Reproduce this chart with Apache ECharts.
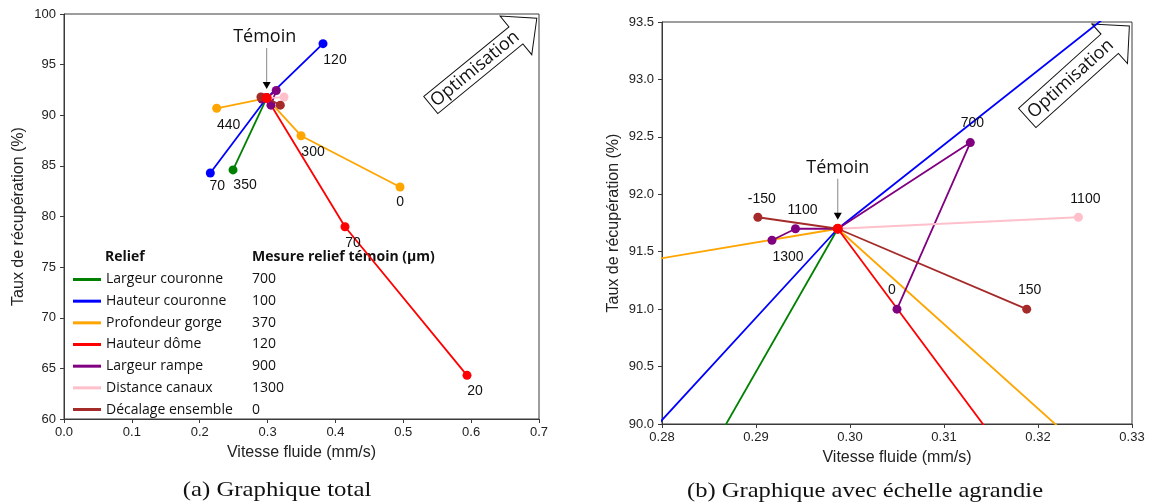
<!DOCTYPE html>
<html><head><meta charset="utf-8">
<script src="https://cdn.jsdelivr.net/npm/echarts@6/dist/echarts.min.js"></script>
<style>html,body{margin:0;padding:0;background:#fff}#c{width:1151px;height:504px}</style>
</head><body><div id="c"></div>
<script>
// ---------------- DATA ----------------
const reliefs = ['Largeur couronne','Hauteur couronne','Profondeur gorge','Hauteur dôme','Largeur rampe','Distance canaux','Décalage ensemble'];
const temoinValues = [700, 100, 370, 120, 900, 1300, 0];   // Mesure relief témoin (µm)
const temoinX = 0.2987, temoinY = 91.70;                   // témoin point

// tested relief values (µm), fluid speed (mm/s), recovery rate (%)
const largeurCouronneP = [350],               largeurCouronneX = [0.2491],               largeurCouronneY = [84.60];
const hauteurCouronneP = [70, 120],           hauteurCouronneX = [0.2156, 0.3817],       hauteurCouronneY = [84.30, 97.07];
const profondeurGorgeP = [0, 300, 440],       profondeurGorgeX = [0.4952, 0.3493, 0.2250], profondeurGorgeY = [82.91, 87.98, 90.69];
const hauteurDomeP     = [20, 70],            hauteurDomeX     = [0.5939, 0.4141],       hauteurDomeY     = [64.31, 78.99];
const largeurRampeP    = [0, 700, 1100, 1300], largeurRampeX   = [0.3050, 0.3128, 0.2942, 0.2917], largeurRampeY = [91.00, 92.45, 91.70, 91.60];
const distanceCanauxP  = [1100],              distanceCanauxX  = [0.3243],               distanceCanauxY  = [91.80];
const decalageP        = [-150, 150],         decalageX        = [0.2902, 0.3188],       decalageY        = [91.80, 91.00];

const xTicksLeft = [0, 0.7, 0.1], yTicksLeft = [60, 100, 5];
const xTicksRight = [0.28, 0.33, 0.01], yTicksRight = [90, 93.5, 0.5];

// ---------------- STYLE ----------------
const colors = ['#008000','#0000ff','#ffa500','#ff0000','#800080','#ffc0cb','#a52a2a'];
const P = [largeurCouronneP, hauteurCouronneP, profondeurGorgeP, hauteurDomeP, largeurRampeP, distanceCanauxP, decalageP];
const X = [largeurCouronneX, hauteurCouronneX, profondeurGorgeX, hauteurDomeX, largeurRampeX, distanceCanauxX, decalageX];
const Y = [largeurCouronneY, hauteurCouronneY, profondeurGorgeY, hauteurDomeY, largeurRampeY, distanceCanauxY, decalageY];
const labelledLeft = [0,1,2,3], labelledRight = [4,5,6];
// label centre offsets (px) relative to the marker
const leftOffsets = {'1|70':[7,13], '2|0':[0,15], '2|440':[12,17], '3|70':[8,16], '3|20':[8,16], '0|350':[12,15]};
const rightOffsets = {'4|1300':[16,17], '4|0':[-5,-19], '4|1100':[7,-19], '4|700':[2,-19], '5|1100':[7,-18], '6|-150':[4,-18], '6|150':[3,-19]};
const SYM = 9;

const AX = 'Liberation Sans, Arial, sans-serif';
const axisCol = '#3a3a3a';

function buildData(i, grid) {
  const pts = P[i].map((p, k) => ({p, x: X[i][k], y: Y[i][k], t: false}));
  pts.push({p: temoinValues[i], x: temoinX, y: temoinY, t: true});
  pts.sort((a, b) => a.p - b.p);
  const showLab = (grid === 0 ? labelledLeft : labelledRight).includes(i);
  return pts.map(o => {
    const item = {value: [o.x, o.y, o.p]};
    if (o.t || !showLab) { item.label = {show: false}; return item; }
    const key = i + '|' + o.p;
    const off = grid === 0 ? (leftOffsets[key] || [12, 16]) : (rightOffsets[key] || [3, -19]);
    item.label = {show: true, position: [SYM / 2 + off[0], SYM / 2 + off[1]], align: 'center', verticalAlign: 'middle'};
    return item;
  });
}

function mkAxis(t, grid, dec, isX) {
  return {
    type: 'value', gridIndex: grid, min: t[0], max: t[1], interval: t[2],
    axisLine: {show: true, onZero: false, lineStyle: {color: axisCol, width: 1}},
    axisTick: {show: true, inside: false, length: 4, lineStyle: {color: axisCol}},
    splitLine: {show: false},
    axisLabel: {fontFamily: AX, fontSize: 13, color: '#222', margin: isX ? 7 : 8,
      formatter: v => Number(v).toFixed(dec)},
    name: isX ? 'Vitesse fluide (mm/s)' : 'Taux de récupération (%)',
    nameLocation: 'middle', nameGap: isX ? 26 : (grid === 0 ? 37 : 40),
    nameTextStyle: {fontFamily: AX, fontSize: 16, color: '#222'}
  };
}

const series = [];
[0, 1].forEach(g => {
  reliefs.forEach((name, i) => {
    series.push({
      type: 'line', name, xAxisIndex: g, yAxisIndex: g,
      data: buildData(i, g), symbol: 'circle', symbolSize: SYM, showSymbol: true,
      lineStyle: {width: 1.8, color: colors[i]}, itemStyle: {color: colors[i]},
      label: {fontFamily: AX, fontSize: 14, color: '#111', formatter: p => String(p.value[2])},
      animation: false, z: 2 + i * 0.01, clip: true
    });
  });
  series.push({
    type: 'scatter', name: 'Témoin', xAxisIndex: g, yAxisIndex: g,
    data: [[temoinX, temoinY]], symbolSize: 10, itemStyle: {color: '#ff0000', opacity: 1},
    silent: true, animation: false, z: 5
  });
});

const chart = echarts.init(document.getElementById('c'), null, {renderer: 'canvas'});
const legendFont = 'Open Sans, Lato, sans-serif';
chart.setOption({
  backgroundColor: '#fff',
  animation: false,
  grid: [
    {left: 64, top: 14, width: 475, height: 405, show: true, borderColor: axisCol, borderWidth: 1},
    {left: 662, top: 22, width: 470, height: 402, show: true, borderColor: axisCol, borderWidth: 1}
  ],
  xAxis: [mkAxis(xTicksLeft, 0, 1, true), mkAxis(xTicksRight, 1, 2, true)],
  yAxis: [mkAxis(yTicksLeft, 0, 0, false), mkAxis(yTicksRight, 1, 1, false)],
  legend: {
    data: reliefs, orient: 'vertical', left: 68, top: 265.5, icon: 'rect',
    itemWidth: 28, itemHeight: 3, itemGap: 3.67, selectedMode: false,
    textStyle: {fontFamily: legendFont, fontSize: 14, color: '#111', lineHeight: 18,
      rich: {
        a: {fontFamily: legendFont, fontSize: 14, color: '#111', width: 146},
        b: {fontFamily: legendFont, fontSize: 14, color: '#111'}
      }},
    formatter: name => '{a|' + name + '}{b|' + temoinValues[reliefs.indexOf(name)] + '}'
  },
  series
});

// ---------- annotations ----------
function optimArrow(cx, cy, deg, L, hw, hb, hhw, along) {
  const pts = [[0,-hw],[hb,-hw],[hb,-hhw],[L,0],[hb,hhw],[hb,hw],[0,hw]];
  return {
    type: 'group', x: cx, y: cy, rotation: deg * Math.PI / 180, z: 50,
    children: [
      {type: 'polygon', shape: {points: pts}, style: {fill: '#fff', stroke: '#111', lineWidth: 1}},
      {type: 'text', x: along, y: 0, style: {text: 'Optimisation', font: '18px ' + legendFont, fill: '#111',
        textAlign: 'center', textVerticalAlign: 'middle'}}
    ]
  };
}
function temoinAnn(g) {
  const p = chart.convertToPixel({gridIndex: g}, [temoinX, temoinY]);
  return [
    {type: 'text', x: p[0] - (g === 0 ? 2 : 0), y: p[1] - 61, z: 60,
      style: {text: 'Témoin', font: '18px ' + legendFont, fill: '#111', textAlign: 'center', textVerticalAlign: 'middle'}},
    {type: 'line', z: 60, shape: {x1: p[0], y1: p[1] - 50, x2: p[0], y2: p[1] - 15}, style: {stroke: '#888', lineWidth: 1}},
    {type: 'polygon', z: 60, shape: {points: [[p[0]-4, p[1]-16], [p[0]+4, p[1]-16], [p[0], p[1]-9]]}, style: {fill: '#000'}}
  ];
}
const capFont = '21px "Liberation Serif", serif';
chart.setOption({
  graphic: [
    {type: 'text', x: 105, y: 257, style: {text: 'Relief', font: 'bold 14px ' + legendFont, fill: '#111', textVerticalAlign: 'middle'}},
    {type: 'text', x: 252, y: 257, style: {text: 'Mesure relief témoin (µm)', font: 'bold 14px ' + legendFont, fill: '#111', textVerticalAlign: 'middle'}},
    {type: 'text', x: 277, y: 490, scaleX: 1.18, style: {text: '(a) Graphique total', font: capFont, fill: '#111', textAlign: 'center', textVerticalAlign: 'middle'}},
    {type: 'text', x: 865, y: 491, scaleX: 1.17, style: {text: '(b) Graphique avec échelle agrandie', font: capFont, fill: '#111', textAlign: 'center', textVerticalAlign: 'middle'}},
    optimArrow(430.8, 105, 39.3, 137, 11, 110, 25, 57),
    optimArrow(1027.2, 118, 42, 137.5, 13, 111, 26.6, 58.6),
    ...temoinAnn(0), ...temoinAnn(1)
  ]
});
</script></body></html>
